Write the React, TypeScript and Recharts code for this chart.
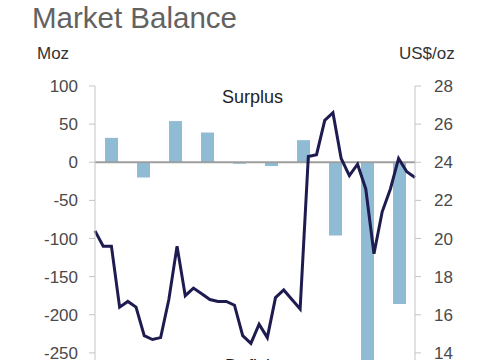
import { Bar, ComposedChart, Line, ReferenceLine, XAxis, YAxis } from 'recharts';

// calendar years for the annual market balance bars
const years = [2014, 2015, 2016, 2017, 2018, 2019, 2020, 2021, 2022, 2023];

// annual surplus / deficit, Moz
const balance = [32, -20, 54, 39, -2, -5, 29, -96, -262, -186];

// quarterly average silver price, US$/oz (Q1 2014 .. Q4 2023)
const price = [
  20.4, 19.6, 19.6, 16.4, 16.7, 16.4, 14.9, 14.7, 14.8, 16.8,
  19.6, 17.0, 17.4, 17.1, 16.8, 16.7, 16.7, 16.5, 14.9, 14.5,
  15.5, 14.8, 16.9, 17.3, 16.8, 16.3, 24.3, 24.4, 26.2, 26.6,
  24.2, 23.3, 23.9, 22.6, 19.2, 21.4, 22.6, 24.2, 23.5, 23.2,
];

const balanceTicks = [-300, -250, -200, -150, -100, -50, 0, 50, 100];
const priceTicks = [12, 14, 16, 18, 20, 22, 24, 26, 28];

const rows = price.map((p, i) => ({
  q: i,
  yr: Math.floor(i / 4),
  price: p,
  balance: i % 4 === 0 ? balance[i / 4] : null,
}));

const font = '"Liberation Sans", Arial, sans-serif';
const tickStyle = { fill: '#4a4a4a', fontSize: 17, fontFamily: font };
const axisStroke = '#c4c4c4';

export default function App() {
  return (
    <div style={{ position: 'absolute', left: 0, top: 0, width: 485, height: 360, overflow: 'hidden', background: '#fff' }}>
      <div style={{ position: 'absolute', left: 32, top: 3, fontFamily: font, fontSize: 29.5, lineHeight: '29.5px', color: '#626262' }}>
        Market Balance
      </div>
      <div style={{ position: 'absolute', left: 37, top: 45, fontFamily: font, fontSize: 17, lineHeight: '17px', color: '#333' }}>
        Moz
      </div>
      <div style={{ position: 'absolute', left: 399, top: 45, fontFamily: font, fontSize: 17, lineHeight: '17px', color: '#333' }}>
        US$/oz
      </div>
      <div style={{ position: 'absolute', left: 222, top: 88, fontFamily: font, fontSize: 18, lineHeight: '18px', color: '#222', zIndex: 2 }}>
        Surplus
      </div>
      <div style={{ position: 'absolute', left: 225, top: 357, fontFamily: font, fontSize: 18, lineHeight: '18px', color: '#222', zIndex: 2 }}>
        Deficit
      </div>

      <ComposedChart width={485} height={460} data={rows} margin={{ top: 86, right: 0, bottom: 39, left: 0 }}>
        <XAxis xAxisId="q" dataKey="q" type="number" domain={[0, price.length - 1]} hide />
        <XAxis
          xAxisId="yr"
          dataKey="yr"
          type="number"
          domain={[-0.5, years.length - 0.5]}
          ticks={years.map((_, k) => k)}
          tickFormatter={(k) => String(years[k])}
          tick={tickStyle}
          stroke={axisStroke}
          height={30}
        />
        <YAxis
          yAxisId="bal"
          domain={[-300, 100]}
          ticks={balanceTicks}
          tick={tickStyle}
          tickMargin={11}
          stroke={axisStroke}
          width={95}
        />
        <YAxis
          yAxisId="price"
          orientation="right"
          domain={[12, 28]}
          ticks={priceTicks}
          tick={tickStyle}
          tickMargin={13}
          stroke={axisStroke}
          width={70}
        />
        <Bar xAxisId="yr" yAxisId="bal" dataKey="balance" fill="#8fbcd4" barSize={13} isAnimationActive={false} />
        <ReferenceLine xAxisId="yr" yAxisId="bal" y={0} stroke="#9e9e9e" strokeWidth={2} />
        <Line
          xAxisId="q"
          yAxisId="price"
          dataKey="price"
          type="linear"
          stroke="#1e1b50"
          strokeWidth={3}
          dot={false}
          isAnimationActive={false}
        />
      </ComposedChart>
    </div>
  );
}
